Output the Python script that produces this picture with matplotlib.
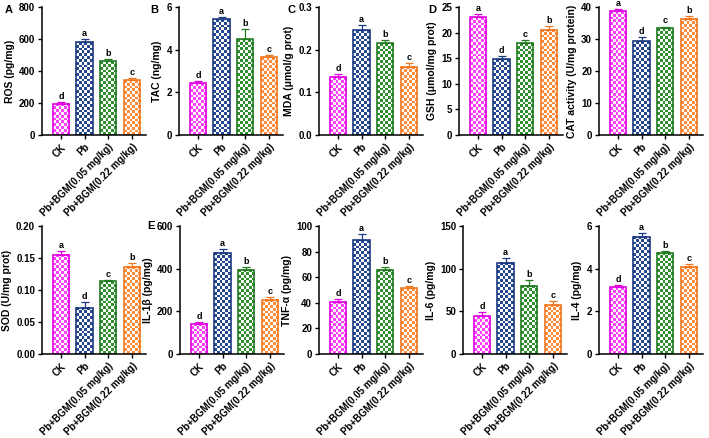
import numpy as np
import matplotlib
matplotlib.use('Agg')
import matplotlib.pyplot as plt

plt.rcParams['font.family'] = ['Liberation Sans', 'DejaVu Sans']
plt.rcParams['font.weight'] = 'bold'

groups = ['CK', 'Pb', 'Pb+BGM(0.05 mg/kg)', 'Pb+BGM(0.22 mg/kg)']
face_colors = ['#ff40ff', '#26468f', '#2f8f2f', '#ff8c3a']
edge_colors = ['#e000e0', '#1c3a80', '#237a23', '#f07820']

ros = [195, 580, 462, 342]
ros_err = [12, 20, 12, 12]
tac = [2.42, 5.42, 4.5, 3.65]
tac_err = [0.1, 0.1, 0.45, 0.08]
mda = [0.135, 0.245, 0.215, 0.16]
mda_err = [0.007, 0.012, 0.008, 0.008]
gsh = [23.0, 14.8, 17.9, 20.6]
gsh_err = [0.6, 0.6, 0.7, 0.7]
cat = [38.6, 29.3, 33.3, 36.3]
cat_err = [0.8, 1.2, 0.6, 0.8]
sod = [0.155, 0.072, 0.114, 0.136]
sod_err = [0.006, 0.009, 0.002, 0.006]
il1b = [142, 475, 395, 255]
il1b_err = [10, 15, 12, 10]
tnfa = [41, 89, 66, 51.5]
tnfa_err = [2, 5, 2, 1.5]
il6 = [44, 107, 80, 57.5]
il6_err = [5, 5, 7, 5]
il4 = [3.12, 5.5, 4.75, 4.08]
il4_err = [0.12, 0.15, 0.08, 0.15]

letters_ros = ['d', 'a', 'b', 'c']
letters_tac = ['d', 'a', 'b', 'c']
letters_mda = ['d', 'a', 'b', 'c']
letters_gsh = ['a', 'd', 'c', 'b']
letters_cat = ['a', 'd', 'c', 'b']
letters_sod = ['a', 'd', 'c', 'b']
letters_il1b = ['d', 'a', 'b', 'c']
letters_tnfa = ['d', 'a', 'b', 'c']
letters_il6 = ['d', 'a', 'b', 'c']
letters_il4 = ['d', 'a', 'b', 'c']

W, H = 709, 438
fig = plt.figure(figsize=(W / 100, H / 100), dpi=100)

# (left px, top px, vals, errs, letters, ylabel, ymax, ticks, ticklabels)
panels = [
    (42, 7, ros, ros_err, letters_ros, 'ROS (pg/mg)', 800, [0, 200, 400, 600, 800], None),
    (179, 7, tac, tac_err, letters_tac, 'TAC (ng/mg)', 6, [0, 2, 4, 6], None),
    (319, 7, mda, mda_err, letters_mda, 'MDA (μmol/g prot)', 0.3, [0, 0.1, 0.2, 0.3], ['0.0', '0.1', '0.2', '0.3']),
    (459, 7, gsh, gsh_err, letters_gsh, 'GSH (μmol/mg prot)', 25, [0, 5, 10, 15, 20, 25], None),
    (599, 7, cat, cat_err, letters_cat, 'CAT activity (U/mg protein)', 40, [0, 10, 20, 30, 40], None),
    (42, 226, sod, sod_err, letters_sod, 'SOD (U/mg prot)', 0.2, [0, 0.05, 0.1, 0.15, 0.2], ['0.00', '0.05', '0.10', '0.15', '0.20']),
    (180, 226, il1b, il1b_err, letters_il1b, 'IL-1β (pg/mg)', 600, [0, 200, 400, 600], None),
    (319, 226, tnfa, tnfa_err, letters_tnfa, 'TNF-α (pg/mg)', 100, [0, 20, 40, 60, 80, 100], None),
    (463, 226, il6, il6_err, letters_il6, 'IL-6 (pg/mg)', 150, [0, 50, 100, 150], None),
    (599, 226, il4, il4_err, letters_il4, 'IL-4 (pg/mg)', 6, [0, 2, 4, 6], None),
]

ax_w_px, ax_h_px = 104, 128
bar_w = 0.7
xlim = (-0.8, 3.6)
cell_px = 2.8

for left, top, vals, errs, lets, ylab, ymax, ticks, tlabels in panels:
    ax = fig.add_axes([left / W, 1 - (top + ax_h_px) / H, ax_w_px / W, ax_h_px / H])
    x = np.arange(len(vals))
    bar_px = bar_w / (xlim[1] - xlim[0]) * ax_w_px
    ncols = max(2, int(round(bar_px / cell_px)))
    for i, v in enumerate(vals):
        h_px = v / ymax * ax_h_px
        nrows = max(1, int(round(h_px / cell_px)))
        checker = (np.add.outer(np.arange(nrows), np.arange(ncols)) % 2).astype(float)
        cmap = matplotlib.colors.ListedColormap(['white', face_colors[i]])
        ax.imshow(checker, cmap=cmap, vmin=0, vmax=1, interpolation='nearest',
                  extent=(x[i] - bar_w / 2, x[i] + bar_w / 2, 0, v),
                  aspect='auto', origin='lower', zorder=1)
        ax.bar(x[i], v, width=bar_w, facecolor='none', edgecolor=edge_colors[i],
               linewidth=1.2, zorder=2)
        ax.errorbar(x[i], v, yerr=[[0], [errs[i]]], fmt='none', ecolor=edge_colors[i],
                    elinewidth=0.9, capsize=3, capthick=0.9, zorder=3)
        t = ax.text(x[i], v + errs[i] + ymax * 0.008, lets[i], ha='center', va='bottom',
                    fontsize=6.5, fontweight='bold')
        t.set_clip_on(False)
    ax.set_xlim(*xlim)
    ax.set_ylim(0, ymax)
    ax.set_yticks(ticks)
    if tlabels is not None:
        ax.set_yticklabels(tlabels)
    ax.set_xticks(x)
    ax.set_xticklabels(groups, rotation=45, ha='right', rotation_mode='anchor')
    ax.tick_params(axis='both', labelsize=7, width=1, length=3, pad=2)
    ax.set_ylabel(ylab, fontsize=7.5, fontweight='bold', labelpad=3)
    for s in ['top', 'right']:
        ax.spines[s].set_visible(False)
    for s in ['left', 'bottom']:
        ax.spines[s].set_linewidth(1.1)

for lbl, px, py in [('A', 5, 10), ('B', 150, 10), ('C', 288, 10), ('D', 428, 10), ('E', 147, 226)]:
    fig.text(px / W, 1 - py / H, lbl, fontsize=8, fontweight='bold', va='center', ha='left')

fig.savefig('out.png', dpi=100)
